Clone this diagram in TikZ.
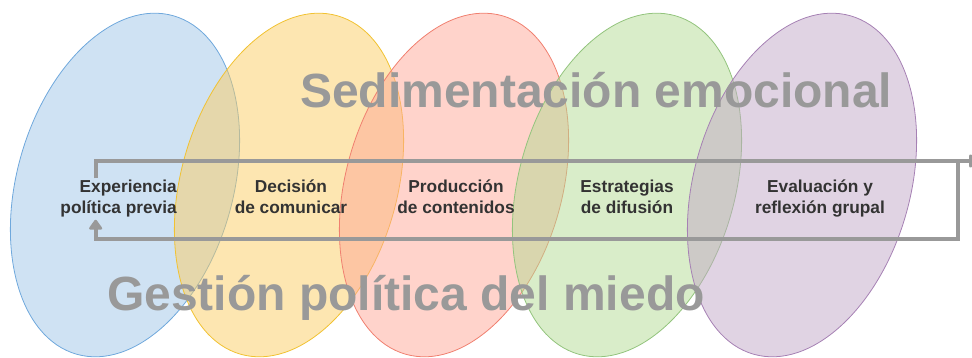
\documentclass[tikz,border=0pt]{standalone}
\usepackage{fontspec}
\setmainfont{Liberation Sans}
\usetikzlibrary{arrows.meta}
\definecolor{blueF}{HTML}{9FC5E7}
\definecolor{blueD}{HTML}{6FA8DC}
\definecolor{yellowF}{HTML}{FBCD63}
\definecolor{yellowD}{HTML}{F1C232}
\definecolor{redF}{HTML}{FFA797}
\definecolor{redD}{HTML}{F08070}
\definecolor{greenF}{HTML}{B3DB93}
\definecolor{greenD}{HTML}{93C47D}
\definecolor{purpleF}{HTML}{C1A7C7}
\definecolor{purpleD}{HTML}{A681B4}
\definecolor{txtGray}{HTML}{333333}
\definecolor{bigGray}{HTML}{999999}

\begin{document}
\begin{tikzpicture}[x=1pt,y=-1pt,
    stage/.style={font=\bfseries\fontsize{17.3}{21}\selectfont, text=txtGray, align=center, inner sep=2pt},
    big/.style={font=\bfseries\fontsize{48}{54}\selectfont, text=bigGray, inner sep=0pt, anchor=base west},
    flow/.style={draw=bigGray, line width=4pt}]
	%%%%% FRAME %%%%%
	\useasboundingbox (0,0) rectangle (972,358);
	
	%%%%% ELLIPSES %%%%%
	\draw[line width=0.8pt, draw=blueD, fill=blueF, fill opacity=0.5, rotate around={-16:(125,185)}] (125,185) ellipse (108 and 176);
	\draw[line width=0.8pt, draw=yellowD, fill=yellowF, fill opacity=0.5, rotate around={-16:(289,185)}] (289,185) ellipse (108 and 176);
	\draw[line width=0.8pt, draw=redD, fill=redF, fill opacity=0.5, rotate around={-16:(454,185)}] (454,185) ellipse (108 and 176);
	\draw[line width=0.8pt, draw=greenD, fill=greenF, fill opacity=0.5, rotate around={-16:(627,185)}] (627,185) ellipse (108 and 176);
	\draw[line width=0.8pt, draw=purpleD, fill=purpleF, fill opacity=0.5, rotate around={-16:(802,185)}] (802,185) ellipse (108 and 176);
	
	%%%%% TITLES %%%%%
	\node[big] (sed) at (300,108) {Sedimentación emocional};
	\node[big] (ges) at (107,310) {Gestión política del miedo};
	
	%%%%% STAGES %%%%%
	\node[stage, align=right, anchor=base east] (exp) at (179,214) {Experiencia\\política previa};
	\node[stage, anchor=base] (dec) at (291,214) {Decisión\\de comunicar};
	\node[stage, anchor=base] (pro) at (456,214) {Producción\\de contenidos};
	\node[stage, anchor=base] (est) at (627,214) {Estrategias\\de difusión};
	\node[stage, anchor=base] (eva) at (820,214) {Evaluación y\\reflexión grupal};
	
	%%%%% LOOP %%%%%
	\coordinate (exit) at (979,161);
	\coordinate (back) at (958,161);
	\coordinate (ret) at (958,239);
	\draw[flow, -{Triangle[width=15pt, length=11pt, round]}] ([xshift=-23pt]exp.north) |- (exit);
	\draw[flow, -{Triangle[width=15pt, length=11pt, round]}] (back) -- (ret) -| ([xshift=-23pt]exp.south);
\end{tikzpicture}
\end{document}
